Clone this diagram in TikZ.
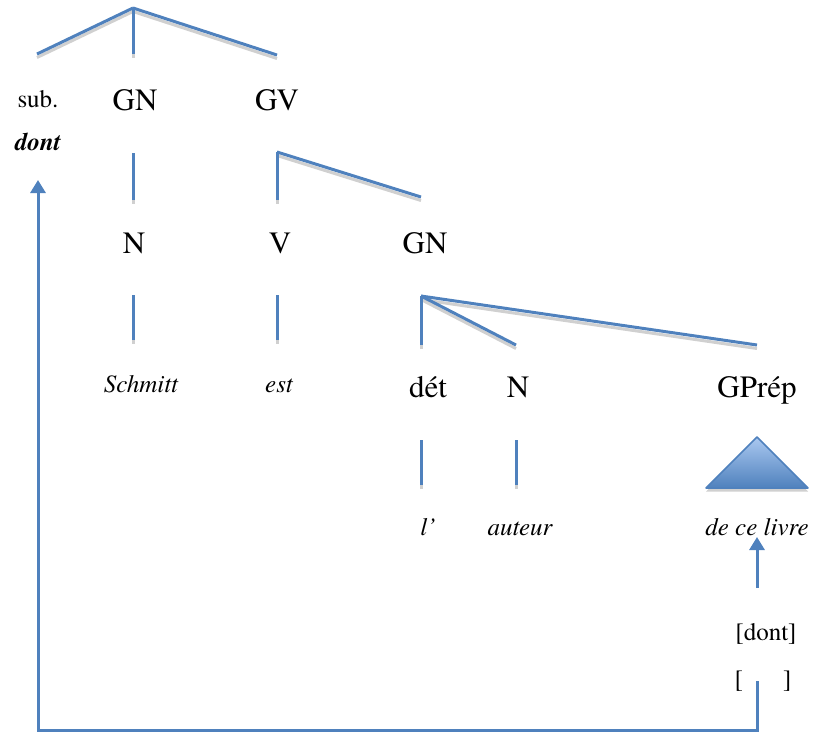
\documentclass[tikz,border=0pt]{standalone}
\usepackage{fontspec}
\setmainfont{TeX Gyre Termes}
\usetikzlibrary{arrows.meta}
\definecolor{lnblue}{RGB}{79,129,189}
\definecolor{shgray}{RGB}{208,208,208}
\definecolor{trilight}{RGB}{170,200,240}
\begin{document}
\begin{tikzpicture}[x=1pt,y=-1pt,
 big/.style={font=\fontsize{31}{31}\selectfont, anchor=base, inner sep=0pt},
 small/.style={font=\fontsize{25}{25}\selectfont, anchor=base, inner sep=0pt},
 smallit/.style={font=\fontsize{25}{25}\selectfont\itshape, anchor=base, inner sep=0pt},
 branch/.style={draw=lnblue, line width=3pt},
 shadowline/.style={draw=shgray, line width=3pt, transform canvas={yshift=-3.5pt}},
 arr/.style={draw=lnblue, line width=3pt, -{Triangle[width=15pt,length=13pt]}},
]
\useasboundingbox (0,0) rectangle (821,734);

% coordinates of branch ends
\coordinate (t0) at (133,8);
\coordinate (t1) at (37,54);
\coordinate (t2) at (133,54);
\coordinate (t3) at (277,55);
\coordinate (gna) at (133,153);
\coordinate (gnb) at (133,200);
\coordinate (v0) at (277,152);
\coordinate (v1) at (277,200);
\coordinate (v2) at (421,197);
\coordinate (na) at (133,295);
\coordinate (nb) at (133,340);
\coordinate (va) at (277,295);
\coordinate (vb) at (277,340);
\coordinate (g0) at (421,296);
\coordinate (g1) at (421,345);
\coordinate (g2) at (516,345);
\coordinate (g3) at (757,345);
\coordinate (da) at (421,440);
\coordinate (db) at (421,485);
\coordinate (ma) at (516,440);
\coordinate (mb) at (516,485);
\coordinate (triA) at (757,437);
\coordinate (triL) at (706,488);
\coordinate (triR) at (808,488);
\coordinate (arA) at (757,588);
\coordinate (arB) at (757,537);
\coordinate (bk0) at (757,681);
\coordinate (bk1) at (757,730);
\coordinate (bk2) at (38,730);
\coordinate (bk3) at (38,180);

% texts
\node[small] (sub) at (38,107) {sub.};
\node[big] (gnA) at (135,110) {GN};
\node[big] (gv) at (277,110) {GV};
\node[small, font=\fontsize{25}{25}\selectfont\bfseries\itshape] (dont) at (38,150) {dont};
\node[big] (nA) at (134,253) {N};
\node[big] (vA) at (280,253) {V};
\node[big] (gnB) at (425,253) {GN};
\node[smallit] (schmitt) at (141,392) {Schmitt};
\node[smallit] (est) at (279,392) {est};
\node[big] (det) at (428,397) {dét};
\node[big] (nB) at (518,397) {N};
\node[big] (gprep) at (757,397) {GPrép};
\node[smallit] (l) at (428,535) {l’};
\node[smallit] (auteur) at (520,535) {auteur};
\node[smallit] (livre) at (757,535) {de ce livre};
\node[small] (dontb) at (766,640) {[dont]};
\node[small] (empty) at (763,687) {[\hspace{40pt}]};

% shadows
\foreach \a/\b in {t0/t1,t0/t2,t0/t3,gna/gnb,v0/v1,v0/v2,na/nb,va/vb,g0/g1,g0/g2,g0/g3,da/db,ma/mb}
  {\draw[shadowline] (\a) -- (\b);}
\fill[shgray, transform canvas={yshift=-3.5pt}] (triA) -- (triR) -- (triL) -- cycle;
% branches
\foreach \a/\b in {t0/t1,t0/t2,t0/t3,gna/gnb,v0/v1,v0/v2,na/nb,va/vb,g0/g1,g0/g2,g0/g3,da/db,ma/mb}
  {\draw[branch] (\a) -- (\b);}
% triangle
\shade[top color=trilight, bottom color=lnblue, draw=lnblue, line width=1.5pt, line join=round] (triA) -- (triR) -- (triL) -- cycle;
% arrows
\draw[arr] (arA) -- (arB);
\draw[arr] (bk0) -- (bk1) -- (bk2) -- (bk3);
\end{tikzpicture}
\end{document}
